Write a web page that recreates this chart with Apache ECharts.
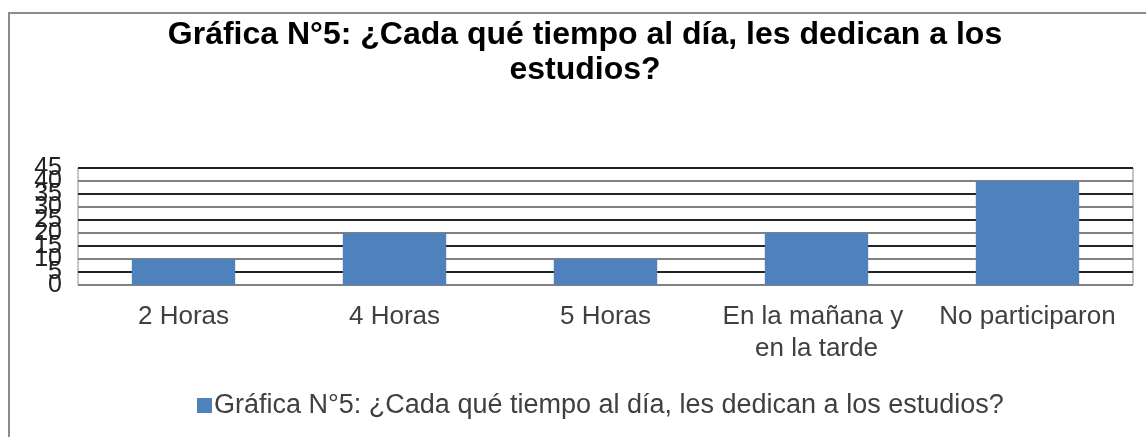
<!DOCTYPE html>
<html>
<head>
<meta charset="utf-8">
<script src="https://cdn.jsdelivr.net/npm/echarts@6/dist/echarts.min.js"></script>
<style>
html,body{margin:0;padding:0;background:#fff;}
#c{width:1146px;height:437px;}
</style>
</head>
<body>
<div id="c"></div>
<script>
const titleText = "Gráfica N°5: ¿Cada qué tiempo al día, les dedican a los\nestudios?";
const seriesName = "Gráfica N°5: ¿Cada qué tiempo al día, les dedican a los estudios?";
const categories = ["2 Horas", "4 Horas", "5 Horas", "En la mañana y en la tarde", "No participaron"];
const values = [10, 20, 10, 20, 40];
const yMin = 0, yMax = 45, yStep = 5;

const FF = 'Liberation Sans, Arial, sans-serif';
const yLabelStyle = {fontSize: 25, color: '#222', margin: 16, fontFamily: FF, hideOverlap: false};
const chart = echarts.init(document.getElementById('c'), null, {renderer: 'canvas'});
chart.setOption({
  animation: false,
  backgroundColor: '#ffffff',
  textStyle: {fontFamily: FF},
  graphic: [{
    type: 'rect',
    shape: {x: 9, y: 13, width: 1160, height: 440},
    style: {fill: 'none', stroke: '#8c8c8c', lineWidth: 2},
    silent: true
  }],
  title: {
    text: titleText,
    left: 580,
    textAlign: 'center',
    top: 13,
    textStyle: {fontSize: 32, fontWeight: 'bold', color: '#000', lineHeight: 35, fontFamily: FF}
  },
  legend: {
    left: 197,
    top: 392,
    padding: 0,
    icon: 'rect',
    itemWidth: 15,
    itemHeight: 15,
    textStyle: {fontSize: 27, color: '#404040', fontFamily: FF, padding: [0, 0, 0, -3]},
    data: [seriesName]
  },
  grid: {
    left: 78, right: 13, top: 168, bottom: 152,
    show: true, borderColor: '#8c8c8c', borderWidth: 1
  },
  xAxis: {
    type: 'category',
    data: categories,
    axisLine: {show: false},
    axisTick: {show: false},
    axisLabel: {
      interval: 0, margin: 16, fontSize: 26, color: '#404040', lineHeight: 32,
      width: 205, overflow: 'break',
      fontFamily: FF
    }
  },
  yAxis: [{
    type: 'value',
    min: yMin, max: yMax, interval: yStep,
    axisLine: {show: false},
    axisTick: {show: false},
    axisLabel: Object.assign({showMinLabel: false, showMaxLabel: false}, yLabelStyle),
    splitLine: {show: true, lineStyle: {color: ['#808080', '#222222'], width: 2}}
  }, {
    type: 'value',
    position: 'left',
    offset: 0,
    min: yMin, max: yMax, interval: yStep,
    axisLine: {show: false},
    axisTick: {show: false},
    splitLine: {show: false},
    axisLabel: Object.assign({showMinLabel: true, showMaxLabel: true,
      formatter: function (v) { return (v === yMin || v === yMax) ? String(v) : ''; }}, yLabelStyle)
  }],
  series: [{
    name: seriesName,
    type: 'bar',
    yAxisIndex: 0,
    data: values,
    barWidth: '49%',
    itemStyle: {color: '#4f81bd'}
  }]
});
</script>
</body>
</html>
